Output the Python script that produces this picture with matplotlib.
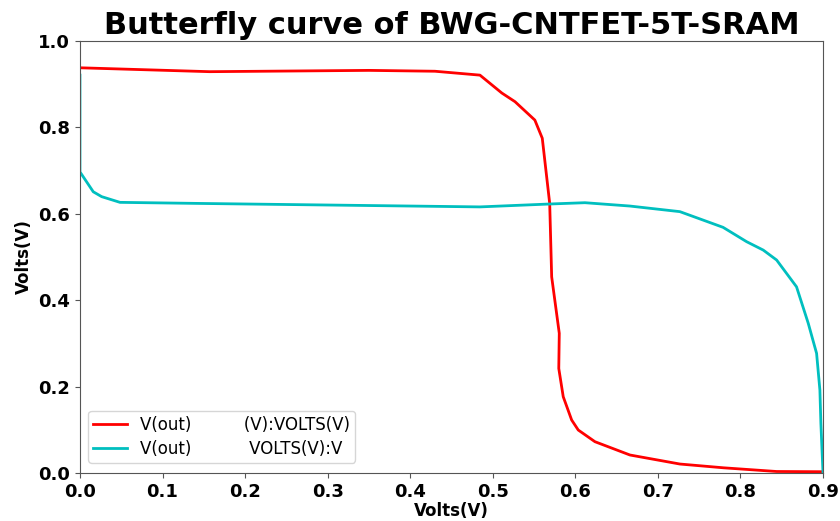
import matplotlib
matplotlib.use("Agg")
import matplotlib.pyplot as plt

red_x = [0.0, 0.157, 0.35, 0.43, 0.4845, 0.511, 0.527, 0.551, 0.560, 0.569, 0.5714, 0.5806, 0.580,
         0.5854, 0.5956, 0.6036, 0.6238, 0.6662, 0.7267, 0.78, 0.8439, 0.9]
red_y = [0.938, 0.929, 0.932, 0.930, 0.921, 0.8796, 0.8595, 0.817, 0.775, 0.624, 0.454, 0.3234, 0.242,
         0.1766, 0.1227, 0.0995, 0.0725, 0.0417, 0.0208, 0.012, 0.0035, 0.003]

cyan_x = [0.0, 0.0, 0.0161, 0.0263, 0.0485, 0.1453, 0.4845, 0.569, 0.6117, 0.666, 0.7267, 0.779, 0.8075,
          0.8277, 0.8439, 0.868, 0.8822, 0.8923, 0.8963, 0.8975, 0.9]
cyan_y = [0.921, 0.697, 0.651, 0.6397, 0.6265, 0.624, 0.616, 0.6227, 0.6257, 0.618, 0.605, 0.5687, 0.5355,
          0.516, 0.493, 0.431, 0.3465, 0.277, 0.192, 0.115, 0.003]

labels = ["V(out)          (V):VOLTS(V)", "V(out)           VOLTS(V):V"]

fig = plt.figure(figsize=(8.4, 5.21), dpi=100)
ax = fig.add_axes([0.0952, 0.0921, 0.8845, 0.8292])
ax.plot(red_x, red_y, color="red", lw=2, label=labels[0])
ax.plot(cyan_x, cyan_y, color="c", lw=2, label=labels[1])
ax.set_xlim(0, 0.9)
ax.set_ylim(0, 1.0)
ax.set_xticks([0.0, 0.1, 0.2, 0.3, 0.4, 0.5, 0.6, 0.7, 0.8, 0.9])
ax.set_yticks([0.0, 0.2, 0.4, 0.6, 0.8, 1.0])
for lab in ax.get_xticklabels() + ax.get_yticklabels():
    lab.set_fontweight("bold")
    lab.set_fontsize(13)
for sp in ax.spines.values():
    sp.set_color("#555555")
ax.tick_params(colors="#555555", labelcolor="black")
ax.set_xlabel("Volts(V)", fontsize=12, fontweight="bold", labelpad=1)
ax.set_ylabel("Volts(V)", fontsize=12, fontweight="bold", labelpad=4)
ax.set_title("Butterfly curve of BWG-CNTFET-5T-SRAM", fontsize=22, fontweight="bold", pad=5)
ax.legend(loc="lower left", fontsize=12, labelspacing=0.35, borderpad=0.3,
          bbox_to_anchor=(0.0, 0.005))
fig.savefig("out.png", dpi=100)
